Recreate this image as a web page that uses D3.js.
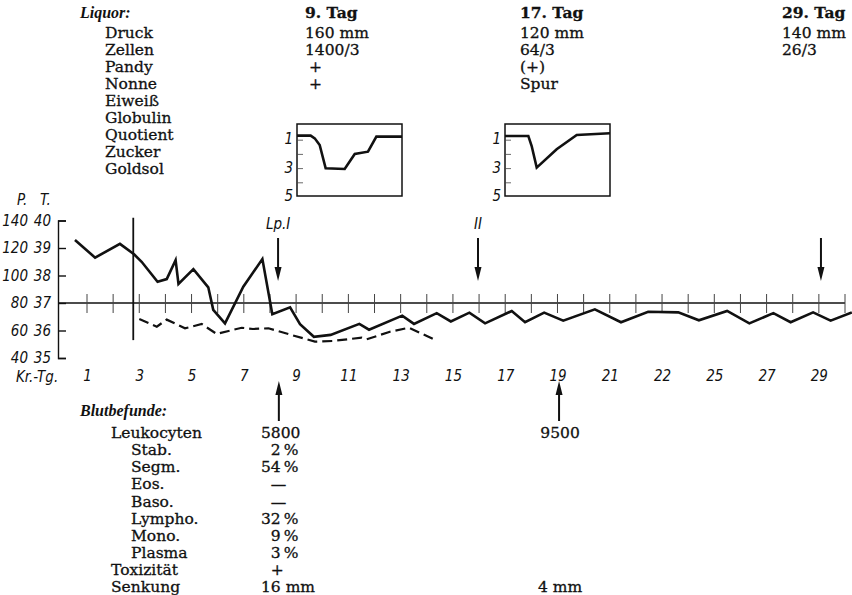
<!DOCTYPE html>
<html>
<head>
<meta charset="utf-8">
<script src="https://cdn.jsdelivr.net/npm/d3@7"></script>
<style>
  html, body { margin: 0; padding: 0; background: #fff; }
  svg { display: block; }
  .serif { font-family: 'DejaVu Serif', serif; font-size: 15.5px; fill: #111; stroke: #111; stroke-width: 0.3px; }
  .head { font-family: 'Liberation Serif', serif; font-style: italic; font-weight: bold; font-size: 16px; fill: #111; }
  .hand { font-family: 'Liberation Sans Narrow', 'DejaVu Sans Condensed', sans-serif; font-style: italic; font-size: 15px; fill: #111; }
</style>
</head>
<body>
<svg id="chart" width="852" height="595"></svg>
<script>
// ---- Temperature curve (solid), day of illness vs. °C ----
const tempDays = [0.54, 1.31, 2.26, 2.80, 3.09, 3.70, 4.05, 4.39, 4.50, 5.07, 5.64, 5.83, 6.28, 6.98, 7.71,
  8.09, 8.77, 9.15, 9.68, 10.32, 11.42, 11.79, 13.06, 13.51, 14.38, 14.92, 15.63, 16.23, 17.25, 17.76,
  18.49, 19.22, 20.43, 21.43, 22.47, 23.62, 24.41, 25.49, 26.34, 27.26, 27.92, 28.78, 29.45, 30.26];
const temps = [39.29, 38.65, 39.15, 38.77, 38.50, 37.77, 37.87, 38.56, 37.69, 38.23, 37.57, 36.75, 36.26, 37.59, 38.60,
  36.59, 36.84, 36.23, 35.77, 35.84, 36.24, 36.03, 36.54, 36.24, 36.63, 36.33, 36.65, 36.26, 36.71, 36.30,
  36.65, 36.36, 36.77, 36.30, 36.68, 36.66, 36.37, 36.71, 36.26, 36.63, 36.30, 36.66, 36.36, 36.66];

// ---- Pulse curve (dashed), beats per minute ----
const pulseDays = [3.00, 3.67, 4.05, 4.75, 5.39, 5.96, 6.92, 7.35, 7.94, 8.83, 9.72, 10.41, 11.51, 11.70, 12.59, 13.32, 14.25];
const pulses = [68.4, 62.8, 67.9, 61.6, 64.7, 57.5, 62.0, 61.1, 61.6, 56.7, 51.9, 52.4, 54.8, 53.6, 59.1, 62.0, 53.8];

// ---- Axes ----
const tempTicks = [35, 36, 37, 38, 39, 40];
const pulseTicks = [40, 60, 80, 100, 120, 140];
const dayTicks = [1, 2, 3, 4, 5, 6, 7, 8, 9, 10, 11, 12, 13, 14, 15, 16, 17, 18, 19, 20, 21, 22, 23, 24, 25, 26, 27, 28, 29, 30];
const dayLabelDays = [1, 3, 5, 7, 9, 11, 13, 15, 17, 19, 21, 23, 25, 27, 29];
const dayLabels = ["1", "3", "5", "7", "9", "11", "13", "15", "17", "19", "21", "22", "25", "27", "29"];
const onsetDay = 2.77;

// ---- Lumbar punctures (down arrows) and blood counts (up arrows) ----
const punctureDays = [8.31, 15.96, 29.08];
const punctureLabels = ["Lp.I", "II", ""];
const bloodDays = [8.34, 19.06];

// ---- Liquor findings ----
const liquorLabels = ["Druck", "Zellen", "Pandy", "Nonne", "Eiweiß", "Globulin", "Quotient", "Zucker", "Goldsol"];
const liquorDates = ["9. Tag", "17. Tag", "29. Tag"];
const liquorValues = [
  ["160 mm", "1400/3", "\u2005+", "\u2005+"],
  ["120 mm", "64/3", "(+)", "Spur"],
  ["140 mm", "26/3"]
];

// ---- Goldsol curves (tube 0..10, flocculation level) ----
const goldTubes1 = [0, 1.30, 1.69, 2.16, 2.73, 4.54, 5.50, 6.76, 7.56, 10];
const goldLevels1 = [0.75, 0.75, 0.94, 1.41, 3.05, 3.10, 2.04, 1.88, 0.82, 0.82];
const goldTubes2 = [0, 2.22, 2.54, 3.02, 4.92, 6.83, 10];
const goldLevels2 = [0.77, 0.77, 1.48, 3.00, 1.71, 0.70, 0.58];
const goldTicks = [1, 3, 5];

// ---- Blood findings ----
const bloodLabels = ["Leukocyten", "Stab.", "Segm.", "Eos.", "Baso.", "Lympho.", "Mono.", "Plasma", "Toxizität", "Senkung"];
const differential = ["Stab.", "Segm.", "Eos.", "Baso.", "Lympho.", "Mono.", "Plasma"];
const bloodValuesA = ["5800", "\u20072\u2009%", "54\u2009%", "\u2007—", "\u2007—", "32\u2009%", "\u20079\u2009%", "\u20073\u2009%", "\u2007+", "16 mm"];
const bloodValuesB = ["9500", "", "", "", "", "", "", "", "", "4 mm"];

// ================= drawing =================
const svg = d3.select("#chart");
svg.append("rect").attr("width", 852).attr("height", 595).attr("fill", "#fff");

const x = d3.scaleLinear().domain([1, 30]).range([87, 845]);
const yT = d3.scaleLinear().domain([35, 40]).range([358, 220.5]);
const yP = d3.scaleLinear().domain([40, 140]).range([358, 220.5]);
const axisX = 58;

// left axis with small inward ticks
const leftAxis = svg.append("g").attr("transform", `translate(${axisX},0)`)
  .call(d3.axisRight(yT).tickValues(tempTicks).tickSize(8).tickSizeOuter(8).tickFormat(""));
leftAxis.selectAll("path, line").attr("stroke", "#111").attr("stroke-width", 1.4);

// axis labels: pulse and temperature columns
svg.append("text").attr("class", "hand").attr("x", 17).attr("y", 205).text("P.");
svg.append("text").attr("class", "hand").attr("x", 40).attr("y", 205).text("T.");
svg.append("g").selectAll("text").data(tempTicks).join("text")
  .attr("class", "hand").attr("text-anchor", "end")
  .attr("x", 51).attr("y", d => yT(d) + 5).text(d => d);
svg.append("g").selectAll("text").data(pulseTicks).join("text")
  .attr("class", "hand").attr("text-anchor", "end")
  .attr("x", 28).attr("y", d => yP(d) + 5).text(d => d);

// 37 °C reference line with daily ticks
const y37 = yT(37);
svg.append("line").attr("x1", axisX).attr("x2", x(30)).attr("y1", y37).attr("y2", y37)
  .attr("stroke", "#111").attr("stroke-width", 1.6);
svg.append("g").selectAll("line").data(dayTicks).join("line")
  .attr("x1", d => x(d)).attr("x2", d => x(d))
  .attr("y1", y37 - 9).attr("y2", y37 + 10)
  .attr("stroke", "#444").attr("stroke-width", 1);

// onset marker
svg.append("line").attr("x1", x(onsetDay)).attr("x2", x(onsetDay))
  .attr("y1", yT(40.1)).attr("y2", yT(35.65))
  .attr("stroke", "#111").attr("stroke-width", 1.8);

// day-of-illness labels
svg.append("text").attr("class", "hand").attr("x", 16).attr("y", 382).text("Kr.-Tg.");
const dayAxis = svg.append("g").attr("transform", "translate(0,367)")
  .call(d3.axisBottom(x).tickValues(dayLabelDays).tickSize(0).tickFormat((d, i) => dayLabels[i]));
dayAxis.select(".domain").remove();
dayAxis.selectAll("text").attr("class", "hand").attr("font-size", null).attr("font-family", null).attr("fill", null);

// curves
const tempLine = d3.line().x(d => x(d[0])).y(d => yT(d[1]));
svg.append("path").datum(d3.zip(tempDays, temps)).attr("d", tempLine)
  .attr("fill", "none").attr("stroke", "#111").attr("stroke-width", 2.6).attr("stroke-linejoin", "miter");
const pulseLine = d3.line().x(d => x(d[0])).y(d => yP(d[1]));
svg.append("path").datum(d3.zip(pulseDays, pulses)).attr("d", pulseLine)
  .attr("fill", "none").attr("stroke", "#111").attr("stroke-width", 2.2).attr("stroke-dasharray", "10,5");

// arrows
function arrow(g, xp, yFrom, yTip) {
  const dir = yTip > yFrom ? 1 : -1;
  g.append("line").attr("x1", xp).attr("x2", xp).attr("y1", yFrom).attr("y2", yTip - dir * 10)
    .attr("stroke", "#111").attr("stroke-width", 2);
  g.append("path")
    .attr("d", `M${xp - 3.5},${yTip - dir * 14}L${xp + 3.5},${yTip - dir * 14}L${xp},${yTip}Z`)
    .attr("fill", "#111");
}
const arrows = svg.append("g");
punctureDays.forEach((d, i) => {
  arrow(arrows, x(d), 238, 281);
  if (punctureLabels[i]) {
    arrows.append("text").attr("class", "hand").attr("text-anchor", "middle")
      .attr("x", x(d)).attr("y", 229).text(punctureLabels[i]);
  }
});
bloodDays.forEach(d => arrow(arrows, x(d), 421, 381));

// ---- Liquor table ----
const rowY = i => 38 + i * 16.95;
svg.append("text").attr("class", "head").attr("x", 80).attr("y", 18).text("Liquor:");
svg.append("g").selectAll("text").data(liquorLabels).join("text")
  .attr("class", "serif").attr("x", 105).attr("y", (d, i) => rowY(i)).text(d => d);
const liquorColX = [305, 520, 782];
liquorDates.forEach((date, c) => {
  const g = svg.append("g");
  g.append("text").attr("class", "serif").attr("font-weight", "bold")
    .attr("x", liquorColX[c]).attr("y", 18).text(date);
  g.selectAll("text.v").data(liquorValues[c]).join("text")
    .attr("class", "serif v").attr("x", liquorColX[c]).attr("y", (d, i) => rowY(i)).text(d => d);
});

// ---- Goldsol boxes ----
function goldBox(left, tubes, levels) {
  const gx = d3.scaleLinear().domain([0, 10]).range([left, left + 105]);
  const gy = d3.scaleLinear().domain([0, 5]).range([125, 196]);
  const g = svg.append("g");
  g.append("rect").attr("x", left).attr("y", 124).attr("width", 105).attr("height", 72)
    .attr("fill", "none").attr("stroke", "#111").attr("stroke-width", 1.5);
  g.selectAll("line").data([1, 2, 3, 4]).join("line")
    .attr("x1", left).attr("x2", left + 6).attr("y1", d => gy(d) + 1).attr("y2", d => gy(d) + 1)
    .attr("stroke", "#444").attr("stroke-width", 0.8);
  g.selectAll("text").data(goldTicks).join("text")
    .attr("class", "hand").attr("font-size", 14).attr("text-anchor", "end")
    .attr("x", left - 4).attr("y", d => gy(d) + 5).text(d => d);
  g.append("path").datum(d3.zip(tubes, levels))
    .attr("d", d3.line().x(d => gx(d[0])).y(d => gy(d[1])))
    .attr("fill", "none").attr("stroke", "#111").attr("stroke-width", 2.6);
}
goldBox(297, goldTubes1, goldLevels1);
goldBox(505, goldTubes2, goldLevels2);

// ---- Blood table ----
const bRowY = i => 438 + i * 17.14;
svg.append("text").attr("class", "head").attr("x", 80).attr("y", 416).text("Blutbefunde:");
svg.append("g").selectAll("text").data(bloodLabels).join("text")
  .attr("class", "serif").attr("x", d => differential.includes(d) ? 131 : 111)
  .attr("y", (d, i) => bRowY(i)).text(d => d);
svg.append("g").selectAll("text").data(bloodValuesA).join("text")
  .attr("class", "serif").attr("x", 261).attr("y", (d, i) => bRowY(i)).text(d => d);
svg.append("g").selectAll("text").data(bloodValuesB).join("text")
  .attr("class", "serif").attr("text-anchor", "middle").attr("x", x(bloodDays[1]) + 1)
  .attr("y", (d, i) => bRowY(i)).text(d => d);
</script>
</body>
</html>
